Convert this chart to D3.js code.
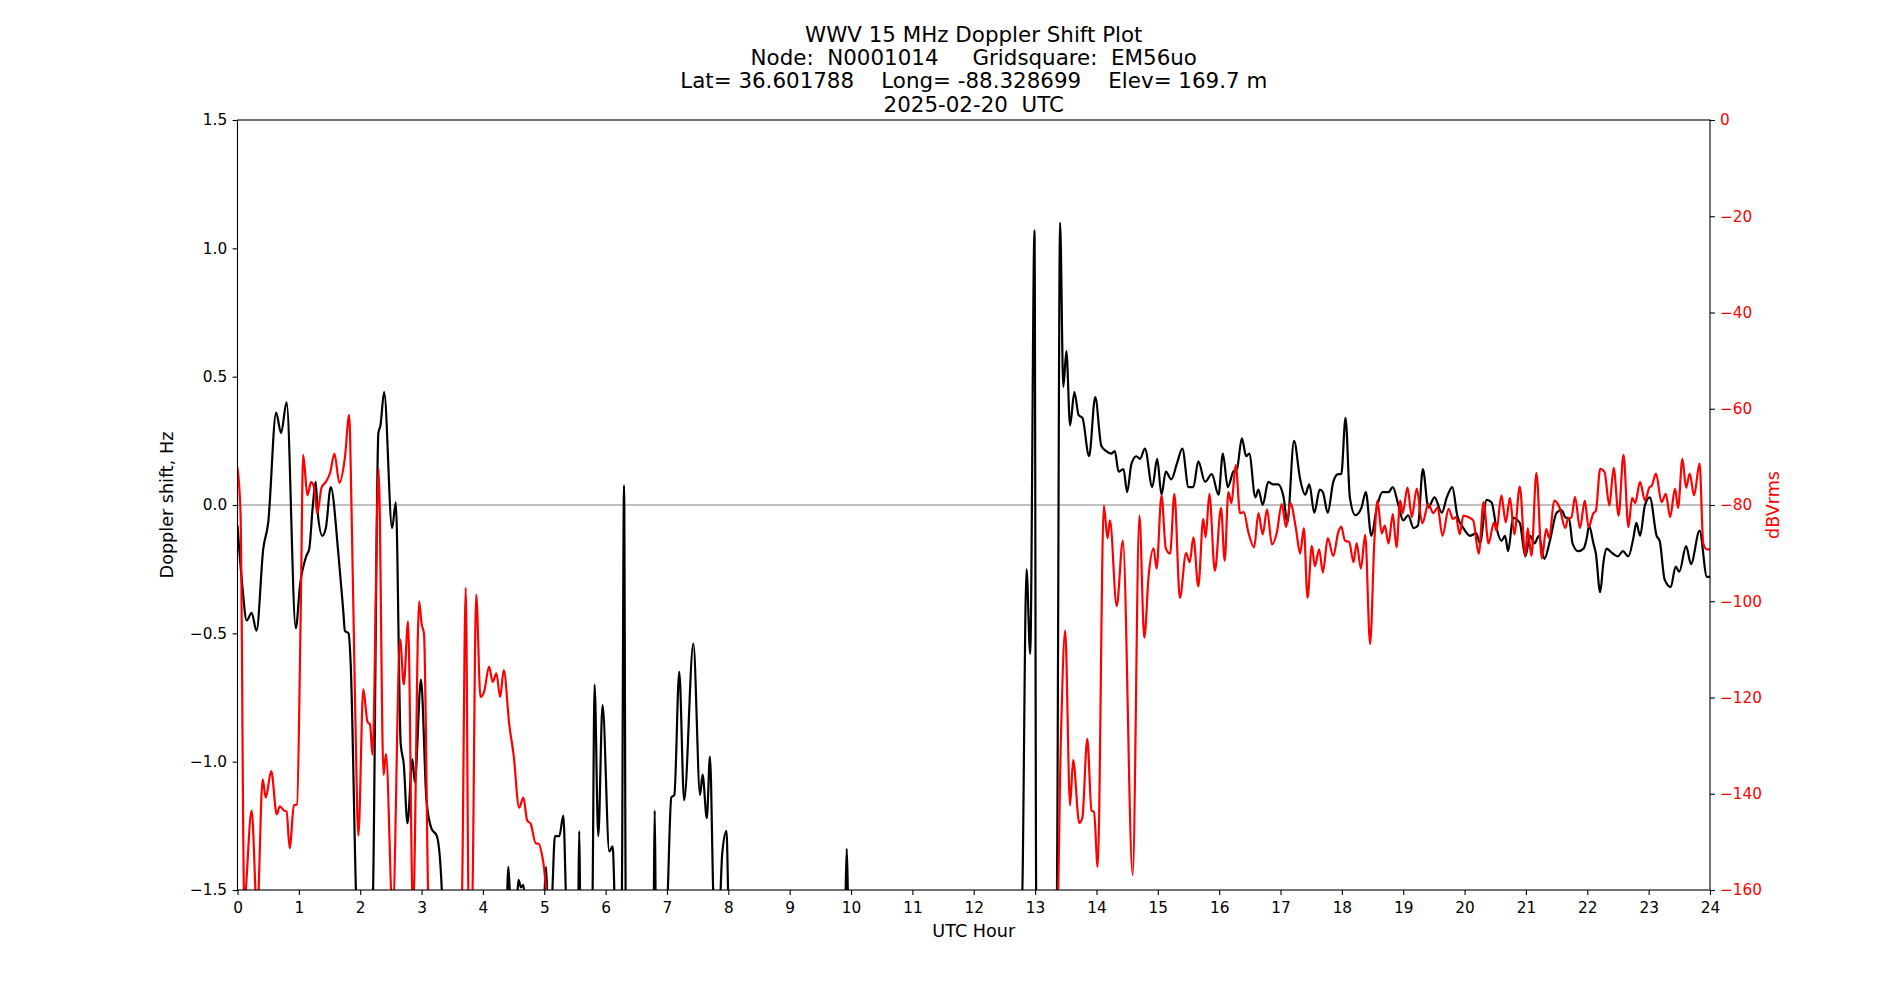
<!DOCTYPE html>
<html>
<head>
<meta charset="utf-8">
<script src="https://d3js.org/d3.v7.min.js"></script>
<style>
  body { margin: 0; background: #fff; }
  svg text { font-family: "DejaVu Sans", sans-serif; }
</style>
</head>
<body>
<div id="chart"></div>
<script>
'use strict';

// title lines (spaces kept as in the original)
var titleLines = [
    'WWV 15 MHz Doppler Shift Plot',
    'Node:  N0001014     Gridsquare:  EM56uo',
    'Lat= 36.601788    Long= -88.328699    Elev= 169.7 m',
    '2025-02-20  UTC'
];

var hourTicks = d3.range(0, 25, 1);
var dopplerTicks = [-1.5, -1.0, -0.5, 0.0, 0.5, 1.0, 1.5];
var powerTicks = [0, -20, -40, -60, -80, -100, -120, -140, -160];

// doppler shift, Hz  [UTC hour, value]  (values under -1.5 run off the bottom)
var dopplerPoints = [
    [0.00, -0.08], [0.08, -0.32], [0.15, -0.45], [0.23, -0.42], [0.31, -0.49], [0.42, -0.17],
    [0.50, -0.07], [0.63, 0.36], [0.71, 0.28], [0.80, 0.40], [0.95, -0.48], [1.02, -0.31],
    [1.12, -0.20], [1.17, -0.17], [1.225, -0.01], [1.274, 0.09], [1.307, -0.03], [1.383, -0.12],
    [1.44, -0.09], [1.52, 0.07], [1.644, -0.19], [1.726, -0.42], [1.75, -0.49], [1.81, -0.50],
    [1.845, -0.62], [1.93, -1.50], [1.97, -1.8], [2.18, -1.8], [2.21, -1.5], [2.296, 0.28],
    [2.33, 0.31], [2.39, 0.44], [2.52, -0.09], [2.58, 0.01], [2.66, -0.93], [2.71, -1.01],
    [2.77, -1.24], [2.85, -0.99], [2.89, -1.08], [2.99, -0.68], [3.08, -1.15], [3.16, -1.26],
    [3.25, -1.29], [3.33, -1.5], [3.36, -1.8], [4.36, -1.8], [4.415, -1.41], [4.46, -1.6],
    [4.55, -1.55], [4.58, -1.46], [4.62, -1.49], [4.66, -1.48], [4.70, -1.6], [4.98, -1.6],
    [5.03, -1.41], [5.06, -1.6], [5.12, -1.55], [5.174, -1.29], [5.245, -1.29], [5.31, -1.21],
    [5.37, -1.6], [5.55, -1.6], [5.57, -1.27], [5.59, -1.6], [5.78, -1.6], [5.82, -0.70],
    [5.88, -1.29], [5.95, -0.78], [6.06, -1.35], [6.115, -1.33], [6.16, -1.6], [6.26, -1.6],
    [6.30, 0.077], [6.33, -1.6], [6.78, -1.6], [6.80, -1.19], [6.82, -1.6], [6.99, -1.6],
    [7.07, -1.14], [7.12, -1.13], [7.20, -0.65], [7.28, -1.15], [7.43, -0.54], [7.54, -1.13],
    [7.58, -1.05], [7.65, -1.22], [7.70, -0.98], [7.77, -1.6], [7.85, -1.6], [7.90, -1.36],
    [7.97, -1.27], [8.01, -1.6], [9.90, -1.6], [9.93, -1.34], [9.96, -1.6], [12.78, -1.6],
    [12.86, -0.25], [12.92, -0.58], [12.99, 1.07], [13.02, -1.6], [13.35, -1.6], [13.407, 1.10],
    [13.46, 0.46], [13.51, 0.60], [13.57, 0.31], [13.64, 0.44], [13.71, 0.35], [13.77, 0.34],
    [13.88, 0.19], [13.98, 0.42], [14.08, 0.23], [14.16, 0.21], [14.24, 0.20], [14.30, 0.21],
    [14.36, 0.13], [14.44, 0.14], [14.50, 0.05], [14.57, 0.16], [14.65, 0.19], [14.71, 0.18],
    [14.79, 0.22], [14.91, 0.07], [14.99, 0.18], [15.06, 0.04], [15.13, 0.13], [15.22, 0.10],
    [15.31, 0.16], [15.40, 0.22], [15.50, 0.07], [15.58, 0.07], [15.66, 0.17], [15.77, 0.09],
    [15.88, 0.12], [15.99, 0.04], [16.06, 0.20], [16.14, 0.07], [16.23, 0.13], [16.29, 0.14],
    [16.37, 0.26], [16.44, 0.19], [16.49, 0.20], [16.59, 0.03], [16.64, 0.06], [16.71, 0.00],
    [16.80, 0.09], [16.88, 0.08], [16.96, 0.08], [17.05, 0.03], [17.11, -0.07], [17.22, 0.25],
    [17.32, 0.10], [17.40, 0.04], [17.47, 0.08], [17.55, -0.03], [17.64, 0.06], [17.69, 0.05],
    [17.77, -0.03], [17.86, 0.09], [17.94, 0.12], [17.99, 0.12], [18.06, 0.34], [18.13, 0.03],
    [18.22, -0.04], [18.32, -0.01], [18.39, 0.05], [18.48, -0.12], [18.57, -0.01], [18.66, 0.05],
    [18.76, 0.05], [18.83, 0.07], [18.92, 0.00], [19.00, -0.06], [19.08, -0.04], [19.17, -0.09],
    [19.24, -0.08], [19.32, 0.14], [19.41, -0.01], [19.51, 0.03], [19.63, -0.03], [19.71, 0.03],
    [19.80, 0.07], [19.88, -0.04], [19.98, -0.09], [20.09, -0.12], [20.19, -0.11], [20.25, -0.15],
    [20.36, 0.02], [20.44, 0.01], [20.52, -0.09], [20.60, -0.14], [20.66, -0.12], [20.71, -0.18],
    [20.79, -0.05], [20.90, -0.07], [20.99, -0.20], [21.07, -0.12], [21.14, -0.15], [21.21, -0.12],
    [21.30, -0.21], [21.39, -0.14], [21.50, -0.03], [21.58, -0.02], [21.65, -0.05], [21.70, -0.05],
    [21.76, -0.15], [21.85, -0.18], [21.94, -0.17], [21.99, -0.13], [22.03, -0.08], [22.10, -0.15],
    [22.14, -0.19], [22.21, -0.34], [22.26, -0.23], [22.31, -0.17], [22.42, -0.19], [22.50, -0.20],
    [22.58, -0.18], [22.67, -0.20], [22.75, -0.13], [22.80, -0.07], [22.86, -0.12], [22.94, 0.00],
    [23.02, 0.03], [23.13, -0.12], [23.18, -0.14], [23.26, -0.29], [23.36, -0.32], [23.44, -0.24],
    [23.50, -0.26], [23.61, -0.16], [23.69, -0.23], [23.83, -0.10], [23.95, -0.28], [24.00, -0.28]
];

// signal level, dBVrms  [UTC hour, value]  (values under -160 run off the bottom)
var powerPoints = [
    [0.00, -72.3], [0.05, -82], [0.11, -162], [0.23, -143.5], [0.32, -165], [0.41, -137],
    [0.46, -140.8], [0.55, -135.3], [0.64, -144.3], [0.69, -142.6], [0.76, -143.5], [0.80, -143.7],
    [0.85, -151.3], [0.92, -142.4], [0.97, -142.2], [1.03, -102.6], [1.07, -69.6], [1.14, -78],
    [1.20, -75.2], [1.25, -76.5], [1.30, -81.7], [1.37, -76.4], [1.44, -75.2], [1.51, -73.3],
    [1.58, -69.3], [1.66, -75.4], [1.75, -70.2], [1.82, -61.3], [1.86, -81.7], [1.92, -123.6],
    [1.97, -148.7], [2.05, -118.3], [2.12, -125.1], [2.16, -125.6], [2.20, -131.9], [2.30, -72.5],
    [2.38, -136.1], [2.42, -131.7], [2.53, -165], [2.65, -107.9], [2.71, -117.3], [2.78, -104.2],
    [2.86, -165], [2.96, -100], [3.00, -104.7], [3.04, -106.8], [3.12, -165], [3.65, -165],
    [3.72, -97.2], [3.77, -165], [3.82, -165], [3.89, -98.6], [3.96, -119.9], [4.02, -118.8],
    [4.10, -113.6], [4.16, -116.8], [4.22, -115], [4.28, -119.9], [4.34, -114.3], [4.43, -125.7],
    [4.50, -131.9], [4.59, -142.9], [4.66, -140.8], [4.72, -145.5], [4.78, -146.3], [4.86, -150.3],
    [4.91, -150.4], [4.98, -153.9], [5.09, -165], [13.36, -165], [13.42, -128.8], [13.49, -106.1],
    [13.57, -142.4], [13.62, -133], [13.72, -146.1], [13.77, -145], [13.85, -128.6], [13.92, -143.5],
    [13.96, -143.8], [14.02, -155.2], [14.12, -80.1], [14.18, -86.9], [14.22, -83.2], [14.33, -101],
    [14.43, -87.4], [14.59, -156.9], [14.70, -82.2], [14.78, -107.6], [14.85, -94.8], [14.93, -89],
    [14.98, -93.2], [15.06, -78], [15.13, -89], [15.20, -90.1], [15.27, -77.7], [15.36, -99.3],
    [15.46, -90], [15.52, -91.9], [15.58, -86.7], [15.66, -96.9], [15.74, -82.9], [15.78, -86.7],
    [15.84, -77.7], [15.93, -93.7], [16.03, -80.6], [16.09, -91.6], [16.15, -77.3], [16.20, -79.6],
    [16.27, -71.7], [16.34, -81.7], [16.40, -81.5], [16.48, -85.9], [16.57, -88.8], [16.64, -81.7],
    [16.71, -86.1], [16.78, -80.9], [16.86, -88.2], [16.94, -85.7], [17.02, -79.8], [17.09, -84.6],
    [17.16, -79.6], [17.25, -84.8], [17.32, -90.1], [17.38, -84.8], [17.44, -99.3], [17.51, -88.5],
    [17.56, -92.7], [17.63, -89.2], [17.69, -94], [17.77, -86.9], [17.86, -90.6], [17.94, -85.7],
    [17.99, -84.5], [18.05, -87.4], [18.12, -87.7], [18.19, -91.9], [18.24, -87.9], [18.31, -93.2],
    [18.38, -86.2], [18.46, -108.9], [18.53, -87.4], [18.58, -79.1], [18.65, -85.9], [18.70, -84.3],
    [18.76, -88], [18.83, -81.9], [18.89, -88.8], [18.95, -79.1], [18.99, -81.7], [19.07, -76.4],
    [19.14, -82.5], [19.22, -76.6], [19.31, -83.8], [19.41, -79.8], [19.49, -81.7], [19.56, -80.5],
    [19.64, -86.4], [19.74, -80.8], [19.81, -82.9], [19.86, -82.5], [19.92, -86.1], [19.98, -82.2],
    [20.06, -82.5], [20.14, -83.2], [20.23, -90.1], [20.31, -79.4], [20.39, -88], [20.48, -83.6],
    [20.52, -85.3], [20.60, -78], [20.67, -83.6], [20.74, -78.5], [20.81, -86.1], [20.90, -76.2],
    [20.99, -90.6], [21.03, -84.8], [21.09, -90.6], [21.17, -73.3], [21.26, -91.1], [21.33, -85],
    [21.38, -86.9], [21.46, -79.1], [21.55, -80.6], [21.64, -84.8], [21.69, -82.7], [21.74, -82.7],
    [21.80, -78.3], [21.88, -84.8], [21.96, -79.1], [22.02, -84.6], [22.10, -81.7], [22.14, -81.2],
    [22.21, -72.5], [22.28, -73.1], [22.36, -80.1], [22.43, -72.3], [22.51, -82.2], [22.59, -69.6],
    [22.67, -84.6], [22.73, -78.5], [22.78, -79.6], [22.86, -75.2], [22.94, -79.1], [23.01, -76.4],
    [23.05, -76], [23.12, -73.5], [23.21, -79.4], [23.28, -77.7], [23.35, -82.5], [23.43, -76.6],
    [23.48, -80.6], [23.55, -70.4], [23.61, -76.4], [23.67, -73.5], [23.74, -78], [23.83, -71.4],
    [23.89, -88], [23.95, -89.2], [24.00, -89.2]
];

var width = 1900;
var height = 1000;
var margin = {left: 237.5, right: 190, top: 120, bottom: 110};
var plotW = width - margin.left - margin.right;
var plotH = height - margin.top - margin.bottom;

var tickFont = '15.3px';
var labelFont = '17.6px';
var titleFont = '21.4px';

var svg = d3.select('#chart')
            .append('svg')
            .attr('width', width)
            .attr('height', height);

var x = d3.scaleLinear().domain([0, 24]).range([margin.left, margin.left + plotW]);
var yDoppler = d3.scaleLinear().domain([-1.5, 1.5]).range([margin.top + plotH, margin.top]);
var yPower = d3.scaleLinear().domain([-160, 0]).range([margin.top + plotH, margin.top]);

svg.append('clipPath')
    .attr('id', 'plotClip')
    .append('rect')
    .attr('x', margin.left)
    .attr('y', margin.top)
    .attr('width', plotW)
    .attr('height', plotH);

// zero line
svg.append('line')
    .attr('x1', x(0))
    .attr('x2', x(24))
    .attr('y1', yDoppler(0))
    .attr('y2', yDoppler(0))
    .style('stroke', '#808080')
    .style('stroke-width', 1);

var plot = svg.append('g').attr('clip-path', 'url(#plotClip)');

var dopplerLine = d3.line()
    .x(function(d){ return x(d[0]); })
    .y(function(d){ return yDoppler(d[1]); })
    .curve(d3.curveMonotoneX);

var powerLine = d3.line()
    .x(function(d){ return x(d[0]); })
    .y(function(d){ return yPower(d[1]); })
    .curve(d3.curveMonotoneX);

plot.append('path')
    .datum(dopplerPoints)
    .attr('d', dopplerLine)
    .style('fill', 'none')
    .style('stroke', '#000000')
    .style('stroke-width', 2.2)
    .style('stroke-linejoin', 'round');

plot.append('path')
    .datum(powerPoints)
    .attr('d', powerLine)
    .style('fill', 'none')
    .style('stroke', '#ff0000')
    .style('stroke-width', 2.2)
    .style('stroke-linejoin', 'round');

// axes
var xAxis = d3.axisBottom(x).tickValues(hourTicks).tickFormat(d3.format('d'))
    .tickSize(4.9).tickSizeOuter(0).tickPadding(7);
var leftAxis = d3.axisLeft(yDoppler).tickValues(dopplerTicks).tickFormat(d3.format('.1f'))
    .tickSize(4.9).tickSizeOuter(0).tickPadding(5.5);
var rightAxis = d3.axisRight(yPower).tickValues(powerTicks).tickFormat(d3.format('d'))
    .tickSize(4.9).tickSizeOuter(0).tickPadding(5);

function styleAxis(g, color){
    g.select('.domain').remove();
    g.selectAll('line').style('stroke', '#000').style('stroke-width', 1.1);
    g.selectAll('text')
        .style('font-family', '"DejaVu Sans", sans-serif')
        .style('font-size', tickFont)
        .style('fill', color);
}

svg.append('g')
    .attr('transform', 'translate(0,' + (margin.top + plotH) + ')')
    .call(xAxis)
    .call(styleAxis, '#000');

svg.append('g')
    .attr('transform', 'translate(' + margin.left + ',0)')
    .call(leftAxis)
    .call(styleAxis, '#000');

svg.append('g')
    .attr('transform', 'translate(' + (margin.left + plotW) + ',0)')
    .call(rightAxis)
    .call(styleAxis, '#ff0000');

// frame
svg.append('rect')
    .attr('x', margin.left)
    .attr('y', margin.top)
    .attr('width', plotW)
    .attr('height', plotH)
    .style('fill', 'none')
    .style('stroke', '#000')
    .style('stroke-width', 1.1);

// axis labels
svg.append('text')
    .attr('x', x(12))
    .attr('y', 936.5)
    .attr('text-anchor', 'middle')
    .style('font-size', labelFont)
    .text('UTC Hour');

svg.append('text')
    .attr('transform', 'translate(173,' + yDoppler(0) + ') rotate(-90)')
    .attr('text-anchor', 'middle')
    .style('font-size', labelFont)
    .text('Doppler shift, Hz');

svg.append('text')
    .attr('transform', 'translate(1779,' + yPower(-80) + ') rotate(-90)')
    .attr('text-anchor', 'middle')
    .style('font-size', labelFont)
    .style('fill', '#ff0000')
    .text('dBVrms');

// title
svg.append('text')
    .attr('text-anchor', 'middle')
    .style('font-size', titleFont)
    .style('white-space', 'pre')
    .selectAll('tspan')
    .data(titleLines)
    .enter()
    .append('tspan')
    .attr('x', x(12))
    .attr('y', function(d, i){ return 111.7 - (titleLines.length - 1 - i) * 23.3; })
    .text(function(d){ return d; });
</script>
</body>
</html>
